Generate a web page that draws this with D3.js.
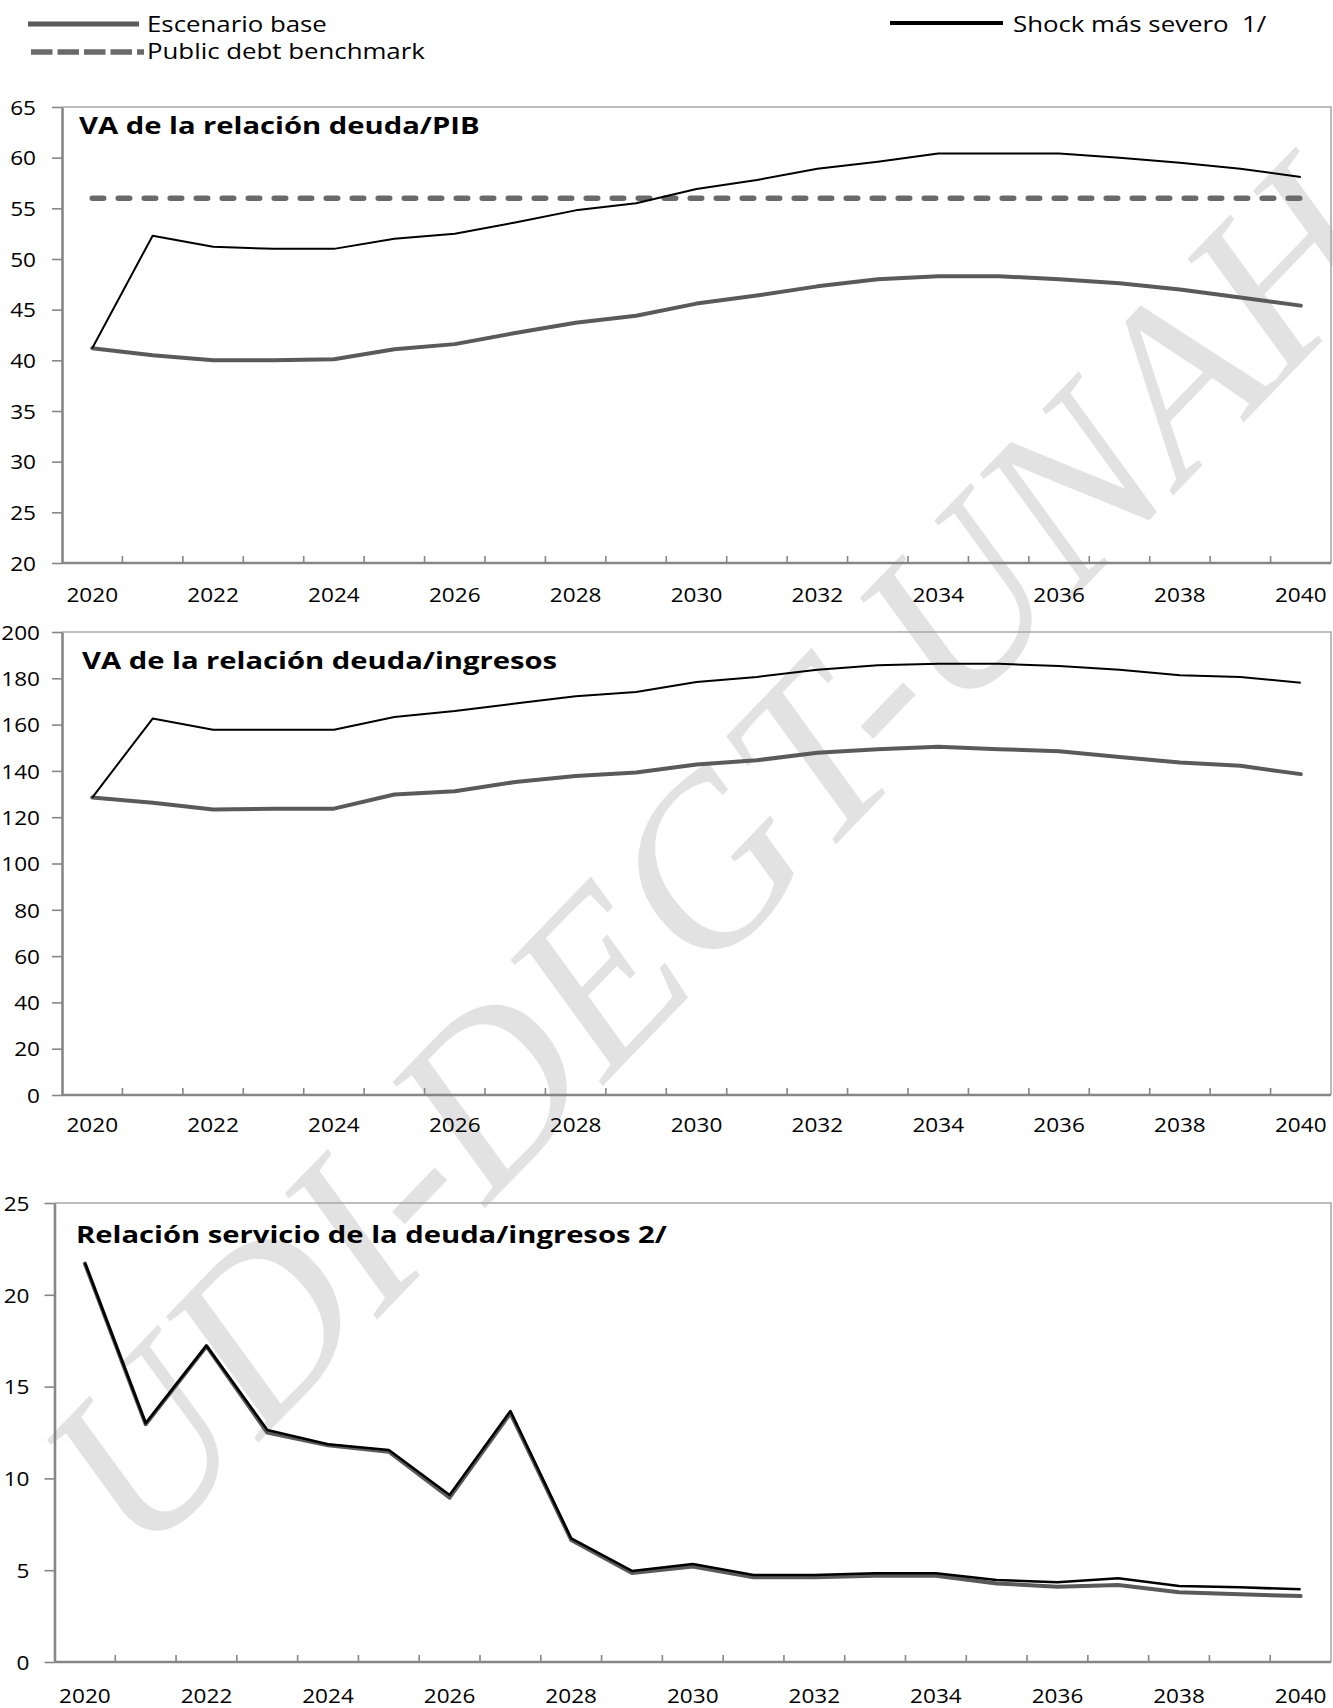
<!DOCTYPE html>
<html>
<head>
<meta charset="utf-8">
<script src="https://cdn.jsdelivr.net/npm/d3@7"></script>
<style>
html,body{margin:0;padding:0;background:#fff;}
svg{display:block;}
</style>
</head>
<body>
<svg id="chart" width="1333" height="1708"></svg>
<script>
// ---------------- DATA ----------------
const years = [2020,2021,2022,2023,2024,2025,2026,2027,2028,2029,2030,2031,2032,2033,2034,2035,2036,2037,2038,2039,2040];
const xLabelYears = [2020,2022,2024,2026,2028,2030,2032,2034,2036,2038,2040];

// VA de la relación deuda/PIB
const pvDebtGdpBase  = [41.2,40.5,40.0,40.0,40.1,41.1,41.6,42.7,43.7,44.4,45.6,46.4,47.3,48.0,48.3,48.3,48.0,47.6,47.0,46.2,45.4];
const pvDebtGdpShock = [41.2,52.3,51.2,51.0,51.0,52.0,52.5,53.6,54.8,55.5,56.9,57.8,58.9,59.6,60.4,60.4,60.4,60.0,59.5,58.9,58.1];
const pvDebtGdpBenchmark = 56;
const yTicksGdp = [20,25,30,35,40,45,50,55,60,65];

// VA de la relación deuda/ingresos
const pvDebtRevBase  = [128.5,126.2,123.3,123.7,123.7,129.8,131.2,135.2,137.8,139.3,142.8,144.6,147.8,149.4,150.4,149.4,148.5,146.0,143.6,142.2,138.6];
const pvDebtRevShock = [128.5,162.6,157.8,157.8,157.8,163.3,165.9,169.1,172.2,174.1,178.4,180.6,183.7,185.6,186.3,186.3,185.3,183.7,181.3,180.6,178.1];
const yTicksRev = [0,20,40,60,80,100,120,140,160,180,200];

// Relación servicio de la deuda/ingresos
const dsRevBase  = [21.7,12.95,17.2,12.5,11.8,11.45,8.95,13.55,6.65,4.85,5.2,4.61,4.61,4.70,4.70,4.28,4.10,4.19,3.80,3.69,3.59];
const dsRevShock = [21.75,13.0,17.23,12.64,11.86,11.55,9.1,13.67,6.73,4.96,5.34,4.74,4.74,4.83,4.83,4.47,4.34,4.56,4.14,4.07,3.96];
const yTicksDs = [0,5,10,15,20,25];

const legendLabels = ["Escenario base", "Public debt benchmark", "Shock más severo  1/"];
const panelTitles = ["VA de la relación deuda/PIB", "VA de la relación deuda/ingresos", "Relación servicio de la deuda/ingresos 2/"];
const watermarkText = "UDI-DEGT-UNAH";

// ---------------- STYLE ----------------
const FONT = "'Open Sans','Noto Sans',sans-serif";
const BASE_COLOR = "#5a5a5a";
const DASH_COLOR = "#6a6a6a";
const AXIS_COLOR = "#868686";
const FRAME_COLOR = "#a8a8a8";
const SX_TICK = 1.13, SX_LEG = 1.23, SX_TITLE = 1.27;

const svg = d3.select("#chart");

// watermark (behind everything)
svg.append("text")
  .attr("transform", "translate(715,858) rotate(-46)")
  .attr("text-anchor", "middle")
  .attr("dy", "0.33em")
  .style("font-family", "'Liberation Serif','DejaVu Serif',serif")
  .style("font-style", "italic")
  .style("font-size", "235px")
  .attr("fill", "#e2e2e2")
  .text(watermarkText);

function stretchedText(parent, x, y, sx, txt, size, weight, anchor) {
  return parent.append("text")
    .attr("transform", `translate(${x},${y}) scale(${sx},1)`)
    .attr("text-anchor", anchor || "start")
    .attr("xml:space", "preserve")
    .style("white-space", "pre")
    .style("font-family", FONT)
    .style("font-size", size + "px")
    .style("font-weight", weight || "normal")
    .attr("fill", "#000")
    .text(txt);
}

// ---------------- LEGEND ----------------
const leg = svg.append("g");
leg.append("line").attr("x1", 28).attr("x2", 139).attr("y1", 24).attr("y2", 24)
  .attr("stroke", BASE_COLOR).attr("stroke-width", 5);
stretchedText(leg, 147, 31.5, SX_LEG, legendLabels[0], 21);
leg.append("line").attr("x1", 31).attr("x2", 144).attr("y1", 52).attr("y2", 52)
  .attr("stroke", DASH_COLOR).attr("stroke-width", 5.5).attr("stroke-dasharray", "21.5,5");
stretchedText(leg, 147, 58.5, SX_LEG, legendLabels[1], 21);
leg.append("line").attr("x1", 890).attr("x2", 1003).attr("y1", 23).attr("y2", 23)
  .attr("stroke", "#000").attr("stroke-width", 4);
stretchedText(leg, 1013, 31.5, SX_LEG, legendLabels[2], 21);

// ---------------- PANELS ----------------
function panel(o) {
  const g = svg.append("g");
  const x = d3.scaleBand().domain(years).range([o.left, o.right]);
  const y = d3.scaleLinear().domain(o.domain).range([o.bottom, o.top]);
  const cx = yr => x(yr) + x.bandwidth() / 2;

  // top & right frame
  g.append("path")
    .attr("d", `M${o.left},${o.top}H${o.right}V${o.bottom}`)
    .attr("fill", "none").attr("stroke", FRAME_COLOR).attr("stroke-width", 1.6);

  // y axis
  const ya = g.append("g").attr("transform", `translate(${o.left},0)`)
    .call(d3.axisLeft(y).tickValues(o.yTicks).tickSize(10).tickSizeOuter(0).tickFormat(d3.format("d")));
  ya.select(".domain").attr("stroke", AXIS_COLOR).attr("stroke-width", 2.6);
  ya.selectAll(".tick line").attr("stroke", AXIS_COLOR).attr("stroke-width", 1.6);
  ya.selectAll(".tick text")
    .attr("x", null).attr("dy", "0.36em")
    .attr("transform", `translate(${-o.yLabelGap},0) scale(${SX_TICK},1)`)
    .attr("text-anchor", "end")
    .style("font-family", FONT).style("font-size", "20px").attr("fill", "#000");

  // x axis labels (category centres)
  const xa = g.append("g").attr("transform", `translate(0,${o.bottom})`)
    .call(d3.axisBottom(x).tickValues(xLabelYears).tickSize(0).tickPadding(0));
  xa.select(".domain").remove();
  xa.selectAll(".tick text")
    .attr("y", null).attr("dy", null)
    .attr("transform", `translate(0,${o.xLabelDy}) scale(${SX_TICK},1)`)
    .style("font-family", FONT).style("font-size", "20px").attr("fill", "#000");

  // x axis line and category-boundary ticks (inside)
  g.append("line").attr("x1", o.left).attr("x2", o.right).attr("y1", o.bottom).attr("y2", o.bottom)
    .attr("stroke", AXIS_COLOR).attr("stroke-width", 2.6);
  g.selectAll(".btick").data(years.slice(1)).join("line")
    .attr("x1", d => x(d)).attr("x2", d => x(d))
    .attr("y1", o.bottom).attr("y2", o.bottom - 7)
    .attr("stroke", AXIS_COLOR).attr("stroke-width", 1.6);

  const line = d3.line().x((d, i) => cx(years[i])).y(d => y(d));

  g.append("path").datum(o.base).attr("d", line)
    .attr("fill", "none").attr("stroke", BASE_COLOR).attr("stroke-width", 4)
    .attr("stroke-linejoin", "round").attr("stroke-linecap", "round");

  if (o.benchmark != null) {
    const ends = [years[0], years[years.length - 1]];
    g.append("path").datum(ends)
      .attr("d", d3.line().x(d => cx(d)).y(() => y(o.benchmark)))
      .attr("fill", "none").attr("stroke", DASH_COLOR).attr("stroke-width", 5.5)
      .attr("stroke-linecap", "round").attr("stroke-dasharray", "11.5,14.5");
  }

  g.append("path").datum(o.shock).attr("d", line)
    .attr("fill", "none").attr("stroke", "#000").attr("stroke-width", o.shockWidth)
    .attr("stroke-linejoin", "round");

  stretchedText(g, o.titleX, o.titleY, SX_TITLE, o.title, 23, "bold");
}

panel({
  left: 62, right: 1331, top: 107, bottom: 563,
  domain: [20, 65], yTicks: yTicksGdp, yLabelGap: 26, xLabelDy: 38.5,
  base: pvDebtGdpBase, shock: pvDebtGdpShock, benchmark: pvDebtGdpBenchmark,
  shockWidth: 2, title: panelTitles[0], titleX: 79, titleY: 134
});
panel({
  left: 62, right: 1331, top: 632, bottom: 1095,
  domain: [0, 200], yTicks: yTicksRev, yLabelGap: 22, xLabelDy: 36.5,
  base: pvDebtRevBase, shock: pvDebtRevShock, benchmark: null,
  shockWidth: 2, title: panelTitles[1], titleX: 82, titleY: 669
});
panel({
  left: 54.5, right: 1331, top: 1203, bottom: 1662,
  domain: [0, 25], yTicks: yTicksDs, yLabelGap: 25, xLabelDy: 41,
  base: dsRevBase, shock: dsRevShock, benchmark: null,
  shockWidth: 2.6, title: panelTitles[2], titleX: 76, titleY: 1243
});
</script>
</body>
</html>
